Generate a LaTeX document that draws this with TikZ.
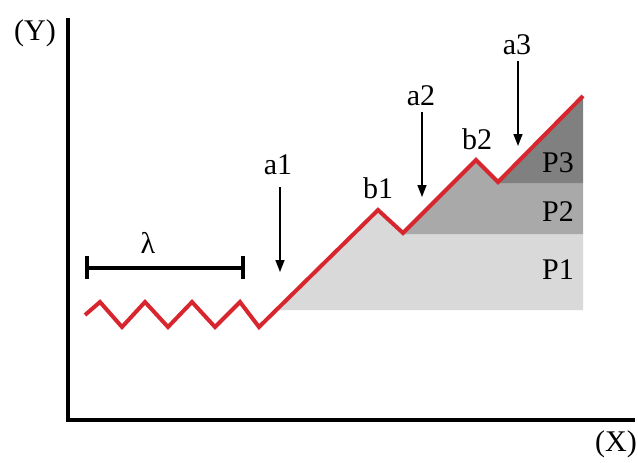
\documentclass[tikz,border=0pt]{standalone}
\usepackage{fontspec}
\setmainfont{Liberation Serif}
\usetikzlibrary{arrows.meta}
\definecolor{Wave}{HTML}{D7262E}
\definecolor{PaleOne}{HTML}{D9D9D9}
\definecolor{PaleTwo}{HTML}{A9A9A9}
\definecolor{PaleThree}{HTML}{808080}

\begin{document}
\begin{tikzpicture}[x=1pt,y=-1pt,
  lbl/.style={inner sep=0pt,font=\fontsize{30}{34}\selectfont},
  pointer/.style={-{Triangle[width=9pt,length=12pt]},line width=1.5pt},
  axisline/.style={line width=3.8pt}]
\useasboundingbox (0,0) rectangle (638,463);
% shaded parts under the profile
\fill[PaleOne] (276,310) -- (378,210) -- (403,234) -- (583,234) -- (583,310) -- cycle;
\fill[PaleTwo] (403,234) -- (476,160) -- (498,183) -- (583,183) -- (583,234) -- cycle;
\fill[PaleThree] (498,183) -- (583,96) -- (583,183) -- cycle;
% axes
\draw[axisline] (68,18) -- (68,420) -- (635,420);
\node[lbl] (ylab) at (35,33) {(Y)};
\node[lbl] (xlab) at (616,444) {(X)};
% wavelength bar
\coordinate (barl) at (87,268);
\coordinate (barr) at (243,268);
\draw[line width=3.8pt] (barl) -- (barr);
\draw[line width=3.8pt] ([yshift=-11pt]barl) -- ([yshift=12pt]barl);
\draw[line width=3.8pt] ([yshift=-11pt]barr) -- ([yshift=12pt]barr);
\node[lbl] (lam) at (148,243) {λ};
% red profile
\draw[Wave,line width=4pt,line join=miter] (85,315) -- (100,302) -- (122,327) -- (145,302)
  -- (168,327) -- (192,302) -- (215,327) -- (240,302) -- (259,327) -- (378,210)
  -- (403,233) -- (476,160) -- (498,182) -- (583,96);
% labels
\node[lbl] (b1) at (378,188) {b1};
\node[lbl] (b2) at (477,139) {b2};
\node[lbl] (p1) at (558,270) {P1};
\node[lbl] (p2) at (558,212) {P2};
\node[lbl] (p3) at (558,163) {P3};
\node[lbl] (a1) at (278,165) {a1};
\node[lbl] (a2) at (421,96) {a2};
\node[lbl] (a3) at (517,45) {a3};
\coordinate (a1tip) at (280,272);
\coordinate (a2tip) at (422,197);
\coordinate (a3tip) at (518,146);
\draw[pointer] ([yshift=-12pt]a1.south -| a1tip) -- (a1tip);
\draw[pointer] ([yshift=-6pt]a2.south -| a2tip) -- (a2tip);
\draw[pointer] ([yshift=-6pt]a3.south -| a3tip) -- (a3tip);
\end{tikzpicture}
\end{document}
